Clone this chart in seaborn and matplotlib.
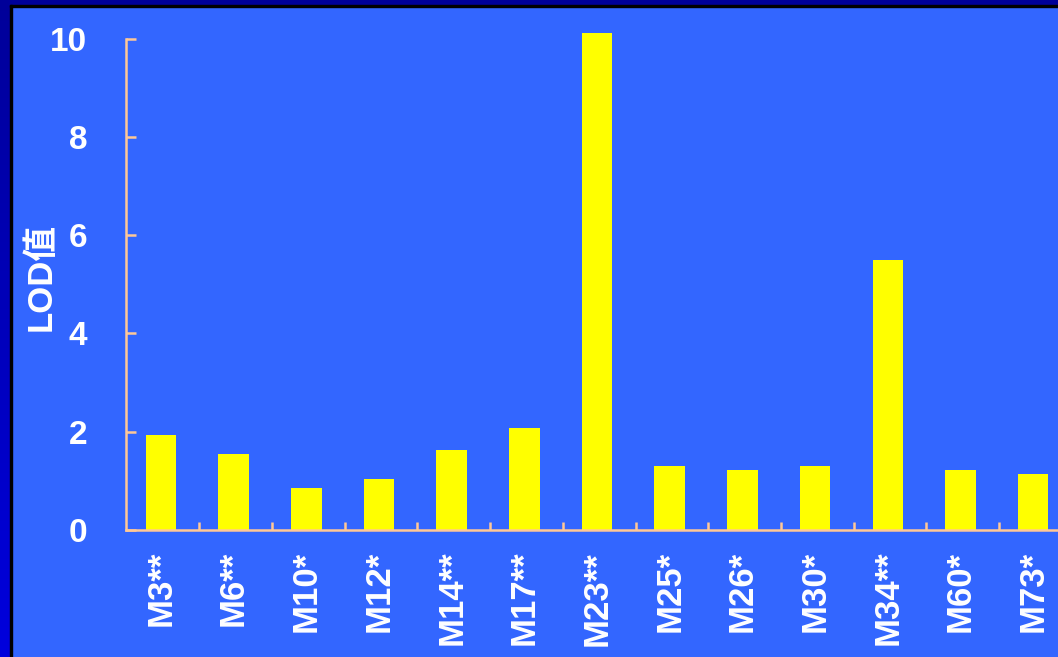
import numpy as np
import pandas as pd
import matplotlib
matplotlib.use("Agg")
import matplotlib.pyplot as plt
import seaborn as sns
from matplotlib.patches import Rectangle

# data
markers = ["M3**", "M6**", "M10*", "M12*", "M14**", "M17**", "M23**",
           "M25*", "M26*", "M30*", "M34**", "M60*", "M73*"]
lod_values = [1.93, 1.55, 0.86, 1.04, 1.63, 2.08, 10.12,
              1.30, 1.22, 1.30, 5.50, 1.22, 1.14]
y_ticks = [0, 2, 4, 6, 8, 10]

sns.set_style("ticks")
plt.rcParams["font.family"] = ["Liberation Sans", "Noto Sans CJK SC", "DejaVu Sans"]

bg_blue = "#3366FF"
axis_col = "#FFC896"

df = pd.DataFrame({"marker": markers, "lod": lod_values})

fig = plt.figure(figsize=(10.58, 6.57), dpi=100, facecolor=bg_blue)

# slide frame: dark strip on the left (gradient) and on top, with a black edge
W, H = 1058, 657
strip = fig.add_axes([0, 0, 10 / W, 1])
grad = np.linspace(0, 1, 256).reshape(-1, 1)
strip.imshow(grad, aspect="auto", cmap=matplotlib.colors.LinearSegmentedColormap.from_list(
    "frame", ["#0000DD", "#000099"]), origin="lower")
strip.set_axis_off()
fig.patches.append(Rectangle((0, 1 - 5 / H), 1, 5 / H, transform=fig.transFigure,
                             color="#000099", zorder=0))
fig.patches.append(Rectangle((10 / W, 0), 2 / W, 1 - 5 / H, transform=fig.transFigure,
                             color="black", zorder=0))
fig.patches.append(Rectangle((10 / W, 1 - 7 / H), 1, 2 / H, transform=fig.transFigure,
                             color="black", zorder=0))

ax = fig.add_axes([126 / W, 127 / H, 945 / W, 506 / H])
ax.set_facecolor(bg_blue)

sns.barplot(data=df, x="marker", y="lod", color="#FFFF00", saturation=1,
            width=0.42, linewidth=0, ax=ax)

ax.set_xlim(-0.48, len(markers) - 0.48)
ax.set_ylim(0, 10.3)
ax.set_yticks(y_ticks)
ax.spines["left"].set_bounds(0, 10)
for side in ["top", "right"]:
    ax.spines[side].set_visible(False)
for side in ["left", "bottom"]:
    ax.spines[side].set_color(axis_col)
    ax.spines[side].set_linewidth(1.8)

ax.tick_params(axis="y", direction="in", length=7.2, width=1.8, color=axis_col,
               labelcolor="white", labelsize=24, pad=28)
ax.tick_params(axis="x", which="major", length=0, labelcolor="white",
               labelsize=25, pad=15, rotation=90)
ax.set_xticks(np.arange(0.53, len(markers) - 0.48), minor=True)
ax.tick_params(axis="x", which="minor", direction="in", length=6, width=1.8,
               color=axis_col)
for lab in ax.get_xticklabels() + ax.get_yticklabels():
    lab.set_fontweight("bold")

ax.set_xlabel("")
ax.set_ylabel("LOD值", color="white", fontsize=25, fontweight="bold")
ax.yaxis.set_label_coords(-0.072, 0.5)

fig.savefig("out.png", dpi=100, facecolor=bg_blue)
